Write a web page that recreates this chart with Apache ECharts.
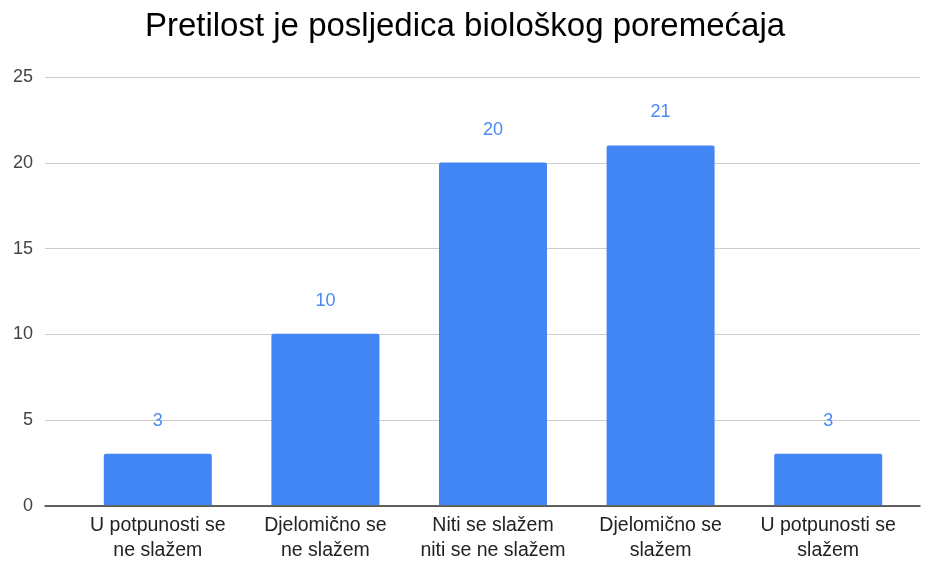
<!DOCTYPE html>
<html>
<head>
<meta charset="utf-8">
<script src="https://cdn.jsdelivr.net/npm/echarts@6/dist/echarts.min.js"></script>
<style>
html,body{margin:0;padding:0;background:#fff;}
#chart{width:930px;height:563px;}
</style>
</head>
<body>
<div id="chart"></div>
<script>
var categories = ['U potpunosti se\nne slažem', 'Djelomično se\nne slažem', 'Niti se slažem\nniti se ne slažem', 'Djelomično se\nslažem', 'U potpunosti se\nslažem'];
var values = [3, 10, 20, 21, 3];
var yTicks = [0, 5, 10, 15, 20, 25];

var chart = echarts.init(document.getElementById('chart'));
var font = 'Liberation Sans, Arial, sans-serif';
chart.setOption({
  animation: false,
  title: {
    text: 'Pretilost je posljedica biološkog poremećaja',
    left: 'center',
    top: 5,
    textStyle: {fontFamily: font, fontSize: 33, fontWeight: 'normal', color: '#000'}
  },
  grid: [
    {left: 45, right: 10, top: 77, bottom: 57},
    {left: 74, right: 18, top: 77, bottom: 57}
  ],
  xAxis: [
    {gridIndex: 0, type: 'category', data: categories,
     axisLine: {lineStyle: {color: '#333', width: 1.5}}, axisTick: {show: false},
     axisLabel: {show: false}},
    {gridIndex: 1, type: 'category', data: categories,
     axisLine: {show: false}, axisTick: {show: false},
     axisLabel: {fontFamily: font, fontSize: 19.5, color: '#222', lineHeight: 25, margin: 8, interval: 0}}
  ],
  yAxis: [
    {gridIndex: 0, type: 'value', min: yTicks[0], max: yTicks[yTicks.length - 1], interval: 5,
     axisLine: {show: false}, axisTick: {show: false},
     splitLine: {lineStyle: {color: '#cccccc'}},
     axisLabel: {fontFamily: font, fontSize: 18, color: '#444', margin: 12}},
    {gridIndex: 1, type: 'value', min: yTicks[0], max: yTicks[yTicks.length - 1], interval: 5,
     show: false, splitLine: {show: false}}
  ],
  series: [{
    type: 'bar',
    xAxisIndex: 1,
    yAxisIndex: 1,
    data: values,
    barWidth: 108,
    itemStyle: {color: '#4285F4', borderRadius: [2, 2, 0, 0]},
    label: {show: true, position: 'top', distance: 24, fontFamily: font, fontSize: 18, color: '#4a8af4'}
  }]
});
</script>
</body>
</html>
